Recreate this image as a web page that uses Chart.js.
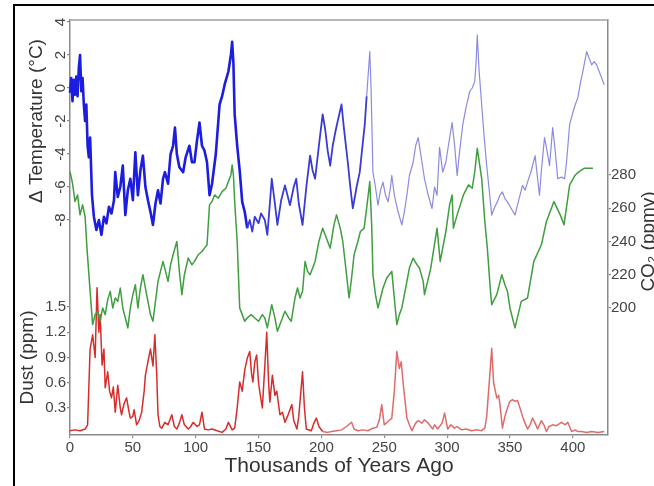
<!DOCTYPE html>
<html>
<head>
<meta charset="utf-8">
<script src="https://cdn.jsdelivr.net/npm/chart.js@4.4.1/dist/chart.umd.min.js"></script>
<style>
  html, body { margin: 0; padding: 0; background: #fff; overflow: hidden; }
  #frame { position: absolute; left: 13px; top: 4px; width: 700px; height: 600px; border: 2px solid #000; }
  #chart { position: absolute; left: 0; top: 0; }
</style>
</head>
<body>
<div id="frame"></div>
<canvas id="chart" width="654" height="486"></canvas>
<script>
// Vostok ice core records (ages in thousands of years)
const tempAge = [0, 1, 2, 3, 4, 5, 6, 7, 8, 9, 10, 11, 12, 13, 14, 15, 16, 17.5, 19, 21,
  23, 25, 27, 29, 31, 33, 35, 36, 38, 40, 42, 44, 46, 48, 50, 52, 54, 56, 58, 60,
  62, 64, 66, 68, 70, 72, 74, 75.5, 78, 80, 82, 83.5, 85, 87, 90, 92, 95, 97, 99, 101,
  103, 105, 107, 109, 111, 113, 116, 119, 121, 123, 126, 128, 129, 130, 131, 133, 135, 137, 139, 141,
  143, 145, 147, 150, 152, 155, 157, 159, 160.5, 163, 165, 168, 171, 173, 175, 178, 180, 182, 185, 188,
  191, 193, 195, 198, 201, 203, 205, 207, 209, 211, 213, 216, 218, 221, 223, 225, 228, 230.5, 232, 234.5,
  236, 238.5, 239.5, 241, 243, 245, 247, 249, 251, 253, 255, 256, 258, 261, 264, 266, 268, 270, 273, 275,
  277, 279, 282, 285, 288, 290, 292, 294, 296.5, 299, 301, 304, 306, 308, 310, 312.5, 315, 318, 320, 322,
  323, 324, 325.5, 327.5, 329.5, 331.5, 333.5, 335.5, 338, 340, 342, 344, 346, 348, 351, 354, 357, 360, 362, 364,
  367, 370, 372, 373.5, 375, 377.5, 379, 381.5, 384, 386, 388, 391, 393.5, 395, 397.5, 400, 402, 404, 406, 408,
  411, 413, 415, 417, 419, 421, 423, 425];
const tempDelta = [-0.3, 0.6, -0.8, 0.5, -0.4, 0.7, -0.5, 1.2, 2.0, -0.2, 0.6, -1.0, -2.0, -1.0, -3.5, -4.2, -3.0, -6.5, -7.8, -8.6,
  -8.0, -8.9, -7.8, -8.2, -7.2, -7.6, -6.8, -5.1, -6.6, -6.0, -4.7, -7.7, -6.2, -5.5, -6.8, -3.9, -6.5, -5.0, -4.1, -6.0,
  -6.8, -7.5, -8.3, -7.0, -6.2, -7.0, -5.5, -5.1, -5.8, -4.0, -3.5, -2.4, -4.0, -4.8, -5.1, -4.2, -3.5, -4.5, -4.5, -3.2,
  -2.1, -3.5, -3.8, -4.5, -6.5, -5.8, -4.0, -1.0, -0.5, 0.2, 1.0, 2.0, 2.8, 1.5, -1.6, -3.5, -5.0, -6.9, -7.5, -8.5,
  -8.0, -8.7, -7.8, -8.2, -7.6, -8.0, -8.9, -7.0, -5.5, -7.0, -8.3, -6.8, -5.9, -6.5, -7.1, -6.0, -5.5, -7.0, -8.3, -6.0,
  -4.1, -5.0, -5.5, -3.5, -1.6, -2.5, -3.8, -4.7, -3.5, -2.7, -2.0, -1.0, -2.5, -4.5, -6.0, -7.3, -6.0, -5.1, -4.0, -2.2,
  -0.5, 2.2, 0.0, -5.1, -6.0, -7.1, -6.2, -5.7, -6.5, -6.9, -6.0, -5.3, -6.5, -7.5, -8.3, -7.5, -6.5, -5.3, -4.5, -3.5,
  -3.0, -4.0, -5.5, -6.5, -7.3, -6.0, -6.5, -3.6, -5.1, -4.5, -3.5, -2.1, -3.5, -5.3, -3.8, -2.2, -1.2, -0.2, 0.0, 0.4,
  1.5, 3.2, 1.0, -1.0, -3.0, -4.7, -6.2, -7.7, -7.2, -6.9, -6.5, -6.3, -6.7, -6.9, -7.3, -7.7, -6.8, -5.9, -6.2, -5.7,
  -5.0, -4.1, -5.5, -6.5, -5.0, -3.0, -3.6, -4.7, -2.4, -3.8, -5.5, -5.4, -5.5, -4.5, -2.2, -1.5, -1.0, -0.6, 0.3, 1.0,
  2.2, 1.8, 1.4, 1.6, 1.4, 1.0, 0.6, 0.2];

const co2Age = [0, 2, 4, 6, 8, 10, 12, 13.5, 16, 18, 20, 22, 24, 26, 28, 30, 32, 34, 36, 38,
  40, 42, 44, 46, 48, 50, 52, 54, 56, 58, 60, 62, 64, 66, 68, 70, 72, 74, 76, 78,
  80, 82, 85, 87, 89, 91, 94, 97, 99, 102, 105, 107, 109, 111, 113, 115, 118, 121, 124, 126,
  128, 129, 130, 131, 133, 135, 137, 139, 141, 144, 147, 150, 153, 155, 157, 160.5, 163, 165, 168, 171,
  174, 176, 179, 181, 183, 185, 187, 189, 191, 195, 198, 201, 204, 207, 210, 212, 215, 217, 220, 222,
  224, 226, 229, 231, 234, 236, 238.5, 240, 241, 243, 245, 247, 249, 252, 256, 258, 260, 262, 264, 267,
  270, 273, 276, 278, 281, 282, 287, 292, 294.5, 299, 302, 304, 305, 308, 313, 317, 320, 322, 324, 327.5,
  330, 332, 334.5, 335.5, 339.5, 343.5, 346, 348, 350, 354, 359, 364, 369, 375, 379, 385, 390, 393, 397.5, 402,
  405, 409, 413, 416];
const co2Ppmv = [282, 275, 264, 268, 256, 262, 255, 236, 210, 190, 196, 198, 192, 200, 196, 205, 210, 200, 206, 204,
  212, 200, 194, 188, 200, 208, 214, 200, 212, 220, 212, 204, 196, 192, 204, 216, 222, 228, 222, 216,
  226, 232, 240, 222, 208, 220, 230, 226, 228, 232, 234, 236, 238, 262, 264, 268, 266, 270, 272, 276,
  280, 286, 280, 264, 240, 200, 196, 192, 194, 196, 194, 192, 196, 194, 188, 202, 194, 186, 192, 198,
  194, 192, 206, 212, 206, 210, 228, 222, 220, 228, 240, 248, 242, 236, 250, 256, 248, 240, 220, 206,
  218, 232, 240, 246, 248, 260, 276, 250, 220, 208, 200, 206, 212, 218, 222, 206, 190, 196, 200, 212,
  224, 230, 226, 224, 216, 208, 224, 248, 228, 246, 262, 268, 248, 256, 268, 274, 272, 282, 296, 278,
  252, 236, 210, 202, 208, 220, 214, 210, 200, 188, 204, 206, 228, 238, 252, 264, 256, 250, 274, 280,
  282, 284, 284, 284];

const dustAge = [0, 4, 8, 12, 14, 16, 18, 20, 21.5, 23, 24, 25.5, 27, 28, 30, 31.5, 33, 34.5, 36, 38,
  40, 41, 43, 45, 47, 48, 50, 51, 53, 55, 57, 59, 60, 62, 64, 66, 67.5, 69, 70, 71.5,
  73, 75.5, 78, 81, 83, 85, 87, 89, 91, 94, 96, 98, 101, 103, 105, 107, 110, 113, 117, 121,
  124, 126, 129, 131, 133, 135, 137, 139, 141, 143, 144.5, 145.5, 147, 148.5, 150, 151, 153, 155, 156.5, 158,
  159, 161, 163, 164.5, 167, 169, 171, 173, 176.5, 178, 180.5, 182, 185, 186.5, 188, 192, 194, 196, 198, 201,
  205, 208, 212, 216, 220, 224, 226, 229, 233, 237, 241, 244, 246, 248, 250, 253, 256, 258, 260, 262,
  263.5, 265, 268, 270, 272, 275, 277, 280, 282, 285, 288.5, 290, 292.5, 296, 298, 300.5, 303, 306, 308, 311.5,
  315, 319.5, 324, 327.5, 330, 331.5, 333, 334.5, 335.5, 337, 339.5, 341, 342, 344, 346, 348, 350, 352, 354, 356,
  358, 360, 362, 364, 366, 368, 370, 372, 375, 377, 379, 381, 384, 387, 391, 394, 396, 399, 402, 404,
  407, 411, 415, 420, 425];
const dustPpm = [0.03, 0.04, 0.03, 0.05, 0.1, 1.0, 1.17, 0.9, 1.73, 1.2, 1.41, 0.81, 1.0, 0.54, 0.73, 0.5, 0.42, 0.55, 0.25, 0.57,
  0.3, 0.22, 0.35, 0.42, 0.25, 0.18, 0.2, 0.28, 0.1, 0.15, 0.25, 0.5, 0.69, 0.85, 1.0, 0.8, 1.17, 0.7, 0.22, 0.08,
  0.06, 0.13, 0.1, 0.22, 0.08, 0.05, 0.12, 0.22, 0.1, 0.05, 0.08, 0.13, 0.08, 0.1, 0.25, 0.05, 0.04, 0.05, 0.03, 0.01,
  0.05, 0.13, 0.04, 0.06, 0.3, 0.61, 0.5, 0.75, 0.89, 0.97, 0.7, 0.61, 0.85, 0.93, 0.6, 0.49, 0.3, 0.8, 1.2, 0.6,
  0.37, 0.69, 0.45, 0.5, 0.22, 0.25, 0.13, 0.2, 0.34, 0.15, 0.05, 0.2, 0.73, 0.3, 0.05, 0.03, 0.12, 0.18, 0.08, 0.02,
  0.01, 0.02, 0.03, 0.04, 0.08, 0.13, 0.05, 0.03, 0.04, 0.03, 0.06, 0.07, 0.15, 0.34, 0.1, 0.14, 0.18, 0.5, 0.97, 0.77,
  0.85, 0.6, 0.18, 0.1, 0.03, 0.12, 0.15, 0.12, 0.16, 0.12, 0.05, 0.1, 0.05, 0.12, 0.24, 0.05, 0.1, 0.06, 0.08, 0.04,
  0.05, 0.03, 0.04, 0.03, 0.06, 0.2, 0.5, 0.8, 1.01, 0.6, 0.42, 0.45, 0.35, 0.06, 0.2, 0.3, 0.38, 0.4, 0.38, 0.39,
  0.3, 0.2, 0.12, 0.05, 0.1, 0.18, 0.12, 0.05, 0.15, 0.1, 0.02, 0.08, 0.1, 0.09, 0.13, 0.1, 0.13, 0.02, 0.04, 0.02,
  0.02, 0.01, 0.02, 0.01, 0.02];

const xTicks = [0, 50, 100, 150, 200, 250, 300, 350, 400];
const tempTicks = [-8, -6, -4, -2, 0, 2, 4];
const dustTicks = [0.3, 0.6, 0.9, 1.2, 1.5];
const co2Ticks = [200, 220, 240, 260, 280];

const FONT = '"Liberation Sans", Arial, Helvetica, sans-serif';
const AXIS = '#8a8a8a';
const TICK_TEXT = '#444';

const pairs = (xs, ys) => xs.map((x, i) => ({ x, y: ys[i] }));
const setTicks = list => scale => { scale.ticks = list.map(v => ({ value: v })); };

// axis lines, tick marks, no grid
const axisBase = (extra) => Object.assign({
  border: { color: AXIS, width: 1.5 },
  grid: { drawOnChartArea: false, drawTicks: true, tickLength: 3, color: AXIS, lineWidth: 1.2 },
}, extra);

// top edge of the plot box and the three rotated axis titles
const boxAndTitles = {
  id: 'boxAndTitles',
  afterDraw(chart) {
    const { ctx, chartArea: a, scales: s } = chart;
    ctx.save();
    ctx.strokeStyle = '#a0a0a0';
    ctx.lineWidth = 1.5;
    ctx.beginPath();
    ctx.moveTo(a.left, a.top);
    ctx.lineTo(a.right, a.top);
    ctx.stroke();

    ctx.fillStyle = '#333';
    ctx.font = '19px ' + FONT;
    ctx.textAlign = 'center';
    ctx.textBaseline = 'middle';
    const vtext = (t, x, y) => {
      ctx.save();
      ctx.translate(x, y);
      ctx.rotate(-Math.PI / 2);
      ctx.fillText(t, 0, 0);
      ctx.restore();
    };
    vtext('Δ Temperature (°C)', 37, s.yTemp.getPixelForValue(-2));
    vtext('Dust (ppm)', 28, s.yDust.getPixelForValue(0.9));
    vtext('CO₂ (ppmv)', 649, s.yCo2.getPixelForValue(240));
    ctx.restore();
  }
};

new Chart(document.getElementById('chart'), {
  type: 'line',
  data: {
    datasets: [
      {
        label: 'Temperature',
        data: pairs(tempAge, tempDelta),
        yAxisID: 'yTemp',
        clip: false, // the cold minima dip below the temperature axis segment
        borderColor: '#2323d8',
        borderWidth: 2,
        segment: {
          borderColor: c => c.p0.parsed.x < 140 ? '#1d1de0' : (c.p0.parsed.x < 235 ? '#3a3ad6' : 'rgba(90, 90, 215, 0.7)'),
          borderWidth: c => c.p0.parsed.x < 140 ? 2.6 : (c.p0.parsed.x < 235 ? 1.8 : 1.2)
        }
      },
      {
        label: 'CO2',
        data: pairs(co2Age, co2Ppmv),
        yAxisID: 'yCo2',
        borderColor: '#3f9e3f',
        borderWidth: 1.5
      },
      {
        label: 'Dust',
        data: pairs(dustAge, dustPpm),
        yAxisID: 'yDust',
        borderColor: '#d93434',
        borderWidth: 1.5,
        segment: {
          borderColor: c => c.p0.parsed.x < 200 ? '#d82c2c' : 'rgba(215, 70, 70, 0.8)'
        }
      }
    ]
  },
  options: {
    responsive: false,
    animation: false,
    devicePixelRatio: 1,
    layout: { padding: { top: 20, left: 13, right: 0, bottom: 0 } },
    elements: { point: { radius: 0 }, line: { tension: 0, borderJoinStyle: 'round' } },
    plugins: { legend: { display: false }, tooltip: { enabled: false } },
    scales: {
      x: axisBase({
        type: 'linear',
        min: 0,
        max: 428,
        afterBuildTicks: setTicks(xTicks),
        afterFit: s => { s.height = 51; },
        ticks: { font: { family: FONT, size: 15 }, color: TICK_TEXT, padding: 1, maxRotation: 0 },
        title: { display: true, text: 'Thousands of Years Ago', color: '#333',
                 font: { family: FONT, size: 21 }, padding: { top: 0, bottom: 7 } }
      }),
      // the later axis of a stack sits on top, so dust is listed first
      yDust: axisBase({
        type: 'linear',
        position: 'left',
        stack: 'left',
        stackWeight: 213,
        min: -0.021,
        max: 2.51,
        afterBuildTicks: setTicks(dustTicks),
        afterFit: s => { s.width = 57; },
        ticks: { font: { family: FONT, size: 15 }, color: TICK_TEXT, padding: 1 }
      }),
      yTemp: axisBase({
        type: 'linear',
        position: 'left',
        stack: 'left',
        stackWeight: 202,
        min: -8.12,
        max: 4.12,
        afterBuildTicks: setTicks(tempTicks),
        afterFit: s => { s.width = 57; },
        ticks: { font: { family: FONT, size: 15 }, color: TICK_TEXT, minRotation: 90, maxRotation: 90,
                 crossAlign: 'center', padding: -1 }
      }),
      yCo2: axisBase({
        type: 'linear',
        position: 'right',
        min: 123.6,
        max: 373.2,
        afterBuildTicks: setTicks(co2Ticks),
        afterFit: s => { s.width = 46; },
        ticks: { font: { family: FONT, size: 15 }, color: TICK_TEXT, padding: 0 }
      })
    }
  },
  plugins: [boxAndTitles]
});
</script>
</body>
</html>
